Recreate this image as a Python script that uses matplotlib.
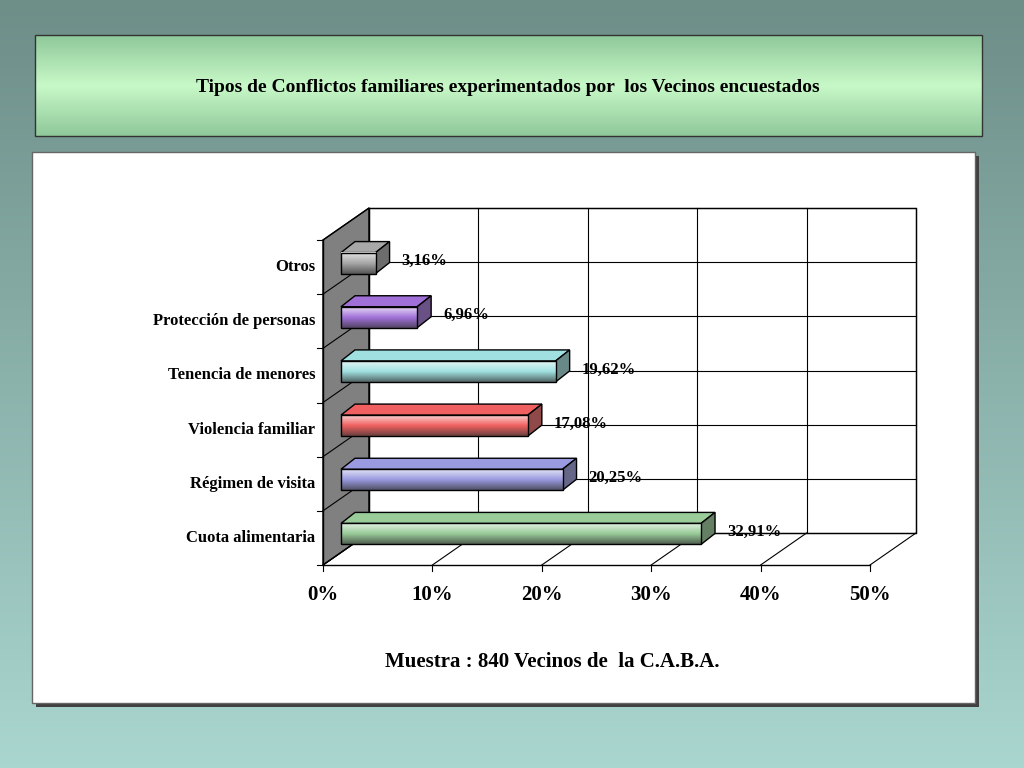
import matplotlib
matplotlib.use("Agg")
import matplotlib.pyplot as plt
import numpy as np
from matplotlib.patches import Rectangle, Polygon

categories = ["Cuota alimentaria", "Régimen de visita", "Violencia familiar",
              "Tenencia de menores", "Protección de personas", "Otros"]
values = [32.91, 20.25, 17.08, 19.62, 6.96, 3.16]
labels = ["32,91%", "20,25%", "17,08%", "19,62%", "6,96%", "3,16%"]
colors = ["#99cc99", "#9a9ae0", "#f06060", "#a0e0e0", "#a070d8", "#a8a8a8"]
ticks = [0, 10, 20, 30, 40, 50]
tick_labels = ["0%", "10%", "20%", "30%", "40%", "50%"]
title = "Tipos de Conflictos familiares experimentados por  los Vecinos encuestados"
footer = "Muestra : 840 Vecinos de  la C.A.B.A."

fig = plt.figure(figsize=(10.24, 7.68), dpi=100)
ax = fig.add_axes([0, 0, 1, 1])
ax.set_xlim(0, 1024); ax.set_ylim(768, 0); ax.axis("off")
F = "Liberation Serif"

# background gradient
bg = np.linspace(0, 1, 256)[:, None]
from matplotlib.colors import LinearSegmentedColormap
cm_bg = LinearSegmentedColormap.from_list("bg", ["#6e8e88", "#a9d6cf"])
ax.imshow(bg, extent=(0, 1024, 768, 0), cmap=cm_bg, aspect="auto", zorder=0)
# title box
cm_t = LinearSegmentedColormap.from_list("t", ["#8fc89a", "#c8f8c8", "#8fc89a"])
ax.imshow(bg, extent=(35, 982, 136, 35), cmap=cm_t, aspect="auto", zorder=1)
ax.add_patch(Rectangle((35, 35), 947, 101, fill=False, ec="#333333", lw=1, zorder=2))
ax.text(508, 87, title, ha="center", va="center", fontsize=14, fontweight="bold", family=F, zorder=3)
# chart panel
ax.add_patch(Rectangle((36, 156), 943, 551, fc="#404040", zorder=1))
ax.add_patch(Rectangle((32, 152), 943, 551, fc="white", ec="#666666", lw=1, zorder=2))

x0, x1, yt, yb = 323, 870, 240, 565
dx, dy = 46, -32
def px(v):
    return x0 + (x1 - x0) * v / 50.0
n = len(categories)
band = (yb - yt) / n
Z = 3
# walls
ax.add_patch(Polygon([(x0, yt), (x0 + dx, yt + dy), (x0 + dx, yb + dy), (x0, yb)],
                     fc="#808080", ec="black", lw=1, zorder=Z))
ax.add_patch(Polygon([(x0 + dx, yt + dy), (x1 + dx, yt + dy), (x1 + dx, yb + dy), (x0 + dx, yb + dy)],
                     fc="white", ec="black", lw=1, zorder=Z))
for t in ticks:
    ax.plot([px(t) + dx, px(t) + dx], [yt + dy, yb + dy], color="black", lw=0.8, zorder=Z)
    ax.plot([px(t), px(t) + dx], [yb, yb + dy], color="black", lw=0.8, zorder=Z)
    ax.plot([px(t), px(t)], [yb, yb + 6], color="black", lw=0.8, zorder=Z)
    ax.text(px(t), yb + 30, tick_labels[t // 10 if False else ticks.index(t)], ha="center", va="center",
            fontsize=15, fontweight="bold", family=F, zorder=Z)
for k in range(n + 1):
    y = yt + k * band
    ax.plot([x0 + dx, x1 + dx], [y + dy, y + dy], color="black", lw=0.8, zorder=Z)
    ax.plot([x0, x0 + dx], [y, y + dy], color="black", lw=0.8, zorder=Z)
    ax.plot([x0 - 6, x0], [y, y], color="black", lw=0.8, zorder=Z)
ax.plot([x0, x1], [yb, yb], color="black", lw=1, zorder=Z)
ax.plot([x0, x0], [yt, yb], color="black", lw=1, zorder=Z)

bdx, bdy, bh = 14, -11, 21
grad = np.array([[0.0], [0.5], [1.0], [0.7], [0.3]])
for i, (c, v, lab) in enumerate(zip(categories, values, labels)):
    ybandtop = yb - (i + 1) * band
    ax.text(x0 - 8, ybandtop + band / 2, c, ha="right", va="center", fontsize=12,
            fontweight="bold", family=F, zorder=Z)
    fx0 = x0 + 18
    fy0 = ybandtop + band / 2 - 2 - bh / 2 - 2
    fx1 = fx0 + (px(v) - x0)
    cm = LinearSegmentedColormap.from_list("b%d" % i, ["#ffffff", colors[i], "#333333"])
    ax.add_patch(Polygon([(fx0, fy0), (fx0 + bdx, fy0 + bdy), (fx1 + bdx, fy0 + bdy), (fx1, fy0)],
                         fc=colors[i], ec="black", lw=1, zorder=Z + 1))
    ax.add_patch(Polygon([(fx1, fy0), (fx1 + bdx, fy0 + bdy), (fx1 + bdx, fy0 + bdy + bh), (fx1, fy0 + bh)],
                         fc=cm(0.75), ec="black", lw=1, zorder=Z + 1))
    im = ax.imshow(1 - np.abs(np.linspace(-1, 1, 32))[:, None] * 0.0 + 0 * np.linspace(0, 1, 32)[:, None],
                   extent=(fx0, fx1, fy0 + bh, fy0), aspect="auto", zorder=Z + 1)
    im.set_data(np.linspace(0.15, 0.85, 32)[:, None] ** 1.0)
    im.set_cmap(cm); im.set_clim(0, 1)
    ax.add_patch(Rectangle((fx0, fy0), fx1 - fx0, bh, fill=False, ec="black", lw=1, zorder=Z + 2))
    ax.text(fx1 + 26, fy0 + bh / 2 - 2, lab, ha="left", va="center", fontsize=12,
            fontweight="bold", family=F, zorder=Z + 2)

ax.text(552, 662, footer, ha="center", va="center", fontsize=15, fontweight="bold", family=F, zorder=Z)
fig.savefig("out.png", dpi=100)
